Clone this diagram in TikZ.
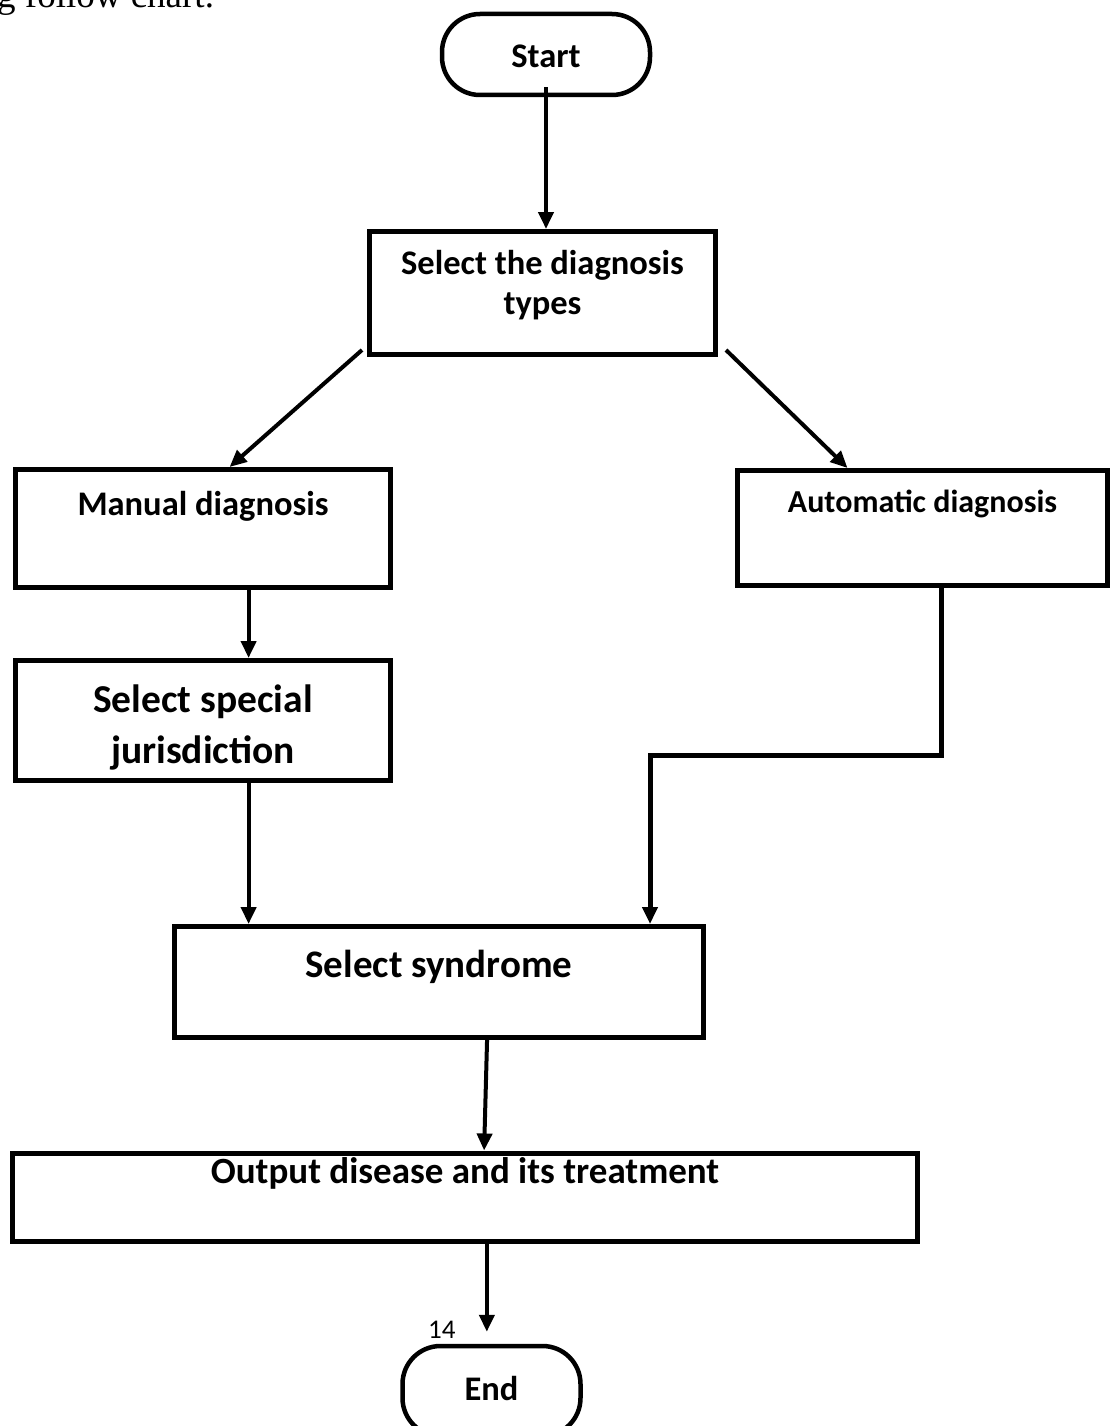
\documentclass[tikz,border=0pt]{standalone}
\usepackage{fontspec}
\setmainfont{Carlito}
\newfontfamily\pagefont{Liberation Serif}
\usetikzlibrary{arrows.meta,calc}

\begin{document}
\begin{tikzpicture}[x=1pt,y=-1pt,
  box/.style={draw, line width=5pt, inner sep=0pt, align=center, text height=30pt},
  term/.style={box, line width=4.5pt, rounded corners=38pt},
  arr/.style={line width=4pt, -{Triangle[length=17pt,width=15pt]}}]

\def\big{\bfseries\fontsize{39.5}{51}\selectfont};
\def\mid{\bfseries\fontsize{34.5}{40}\selectfont};

\useasboundingbox (0,0) rectangle (1115,1426);

% bit of the page text above the chart
\node[anchor=base west, inner sep=0pt, font=\pagefont\fontsize{37}{44}\selectfont] (pagetext) at (-3,8) {g follow chart.};

\node[term, minimum width=208pt, minimum height=81pt, text depth=3pt, font=\mid] (start) at (546,54.5) {Start};
\node[box, minimum width=346pt, minimum height=123pt, text height=60pt, text depth=18pt, font=\mid] (sel) at (542.5,293) {Select the diagnosis\\types};

\node[box, minimum width=375pt, minimum height=118pt, text depth=57pt, font=\mid] (man) at (203,528.5) {Manual diagnosis};
\node[box, minimum width=370pt, minimum height=115pt, text depth=62pt, font=\bfseries\fontsize{32}{40}\selectfont] (auto) at (922.5,528) {Automatic diagnosis};
\node[box, minimum width=375pt, minimum height=120pt, text height=100pt, text depth=15pt, font=\big] (spec) at (203,720.5) {Select special\\jurisdiction};

\node[box, minimum width=529pt, minimum height=111pt, text depth=40pt, font=\bfseries\fontsize{39}{48}\selectfont] (syn) at (439,982) {Select syndrome};
\node[box, minimum width=905pt, minimum height=75pt, text depth=58pt, font=\bfseries\fontsize{37}{45}\selectfont] (out) at (465,1197) {Output disease and its treatment};

\node[anchor=base west, inner sep=0pt, font=\fontsize{27}{32}\selectfont] (pagenum) at (428,1338) {14};
\node[term, minimum width=178pt, minimum height=90pt, text depth=12pt, font=\mid] (end) at (491.5,1391) {End};

\coordinate (m1) at ($(man.south west)!0.62!(man.south east)$);
\coordinate (a1) at ($(auto.south west)!0.55!(auto.south east)$);
\coordinate (bend) at (650,755);
\coordinate (o1) at ($(out.south west)!0.524!(out.south east)$);

\draw[arr, shorten <=-10pt] (start.south) -- (start.south |- sel.north);
\draw[arr] ([shift={(-5pt,7pt)}]sel.south west) -- ($(man.north west)!0.57!(man.north east)$);
\draw[arr] ([shift={(8pt,7pt)}]sel.south east) -- ($(auto.north west)!0.3!(auto.north east)$);
\draw[arr] (m1) -- (m1 |- spec.north);
\draw[arr] (m1 |- spec.south) -- (m1 |- syn.north);
\draw[arr, line width=5pt] (a1) -- (a1 |- bend) -- (bend) -- (bend |- syn.north);
\draw[arr] ($(syn.south west)!0.59!(syn.south east)$) -- ($(out.north west)!0.521!(out.north east)$);
\draw[arr, shorten >=12pt] (o1) -- (o1 |- end.north);
\end{tikzpicture}
\end{document}
